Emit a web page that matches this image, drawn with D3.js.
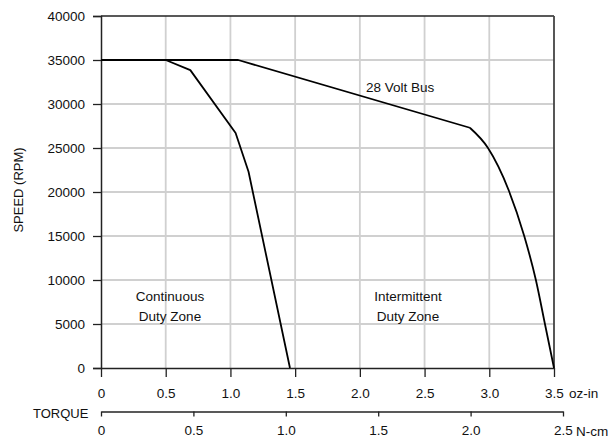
<!DOCTYPE html>
<html>
<head>
<meta charset="utf-8">
<script src="https://cdn.jsdelivr.net/npm/d3@7"></script>
<style>
  html, body { margin: 0; padding: 0; background: #fff; }
  svg { display: block; }
  text { font-family: "Liberation Sans", Arial, Helvetica, sans-serif; fill: #111; }
</style>
</head>
<body>
<svg id="chart" width="614" height="441"></svg>
<script>
// ---- data ----
const torqueTicks = [0, 0.5, 1.0, 1.5, 2.0, 2.5, 3.0, 3.5];
const torqueTickLabels = ["0", "0.5", "1.0", "1.5", "2.0", "2.5", "3.0", "3.5"];
const ncmTicks = [0, 0.5, 1.0, 1.5, 2.0, 2.5];
const ncmTickLabels = ["0", "0.5", "1.0", "1.5", "2.0", "2.5"];
const speedTicks = [0, 5000, 10000, 15000, 20000, 25000, 30000, 35000, 40000];

const continuousTorque = [0, 0.5, 0.69, 1.04, 1.14, 1.46];
const continuousSpeed  = [35000, 35000, 33850, 26700, 22300, 0];

const bus28Torque = [0, 1.06, 2.85, 2.99, 3.15, 3.27, 3.36, 3.43, 3.5];
const bus28Speed  = [35000, 35000, 27300, 25000, 20200, 15000, 10000, 5000, 0];

// ---- layout ----
const svg = d3.select("#chart");
const x = d3.scaleLinear().domain([0, 3.5]).range([101, 554]);
const xN = d3.scaleLinear().domain([0, 2.5]).range([101, 563]);
const y = d3.scaleLinear().domain([0, 40000]).range([368, 16]);
const FS = "13.5px";
const FF = '"Liberation Sans", Arial, Helvetica, sans-serif';

// grid
const grid = svg.append("g");
grid.selectAll("line.v").data(torqueTicks.slice(1, -1)).enter().append("line")
  .attr("x1", d => x(d)).attr("x2", d => x(d))
  .attr("y1", y(0)).attr("y2", y(40000))
  .attr("stroke", "#d0d0d0").attr("stroke-width", 1.8);
grid.selectAll("line.h").data(speedTicks.slice(1, -1)).enter().append("line")
  .attr("x1", x(0)).attr("x2", x(3.5))
  .attr("y1", d => y(d)).attr("y2", d => y(d))
  .attr("stroke", "#d0d0d0").attr("stroke-width", 1.8);

// frame: top and right
svg.append("line").attr("x1", x(0)).attr("x2", x(3.5)).attr("y1", y(40000)).attr("y2", y(40000))
  .attr("stroke", "#222").attr("stroke-width", 1.5);
svg.append("line").attr("x1", x(3.5)).attr("x2", x(3.5)).attr("y1", y(40000)).attr("y2", y(0))
  .attr("stroke", "#444").attr("stroke-width", 1.8);

function styleAxis(g) {
  g.select(".domain").attr("stroke", "#222").attr("stroke-width", 1.5);
  g.selectAll(".tick line").attr("stroke", "#222").attr("stroke-width", 1.3);
  g.selectAll(".tick text").style("font-size", FS).style("font-family", FF).attr("fill", "#111");
}

// Y axis
const yAxis = d3.axisLeft(y).tickValues(speedTicks).tickFormat(d3.format("d")).tickSize(8).tickPadding(8);
const gy = svg.append("g").attr("transform", `translate(${x(0)},0)`).call(yAxis);
styleAxis(gy);

// X axis (oz-in)
const xAxis = d3.axisBottom(x).tickValues(torqueTicks).tickFormat((d, i) => torqueTickLabels[i]).tickSize(9).tickPadding(11).tickSizeOuter(0);
const gx = svg.append("g").attr("transform", `translate(0,${y(0)})`).call(xAxis);
styleAxis(gx);

// X axis (N-cm)
const xAxisN = d3.axisBottom(xN).tickValues(ncmTicks).tickFormat((d, i) => ncmTickLabels[i]).tickSize(5).tickPadding(9).tickSizeOuter(0);
const gn = svg.append("g").attr("transform", "translate(0,411.5)").call(xAxisN);
styleAxis(gn);

// curves
const contPts = continuousTorque.map((t, i) => [t, continuousSpeed[i]]);
const busPts = bus28Torque.map((t, i) => [t, bus28Speed[i]]);
const lineLin = d3.line().x(d => x(d[0])).y(d => y(d[1]));
const lineSmooth = d3.line().x(d => x(d[0])).y(d => y(d[1])).curve(d3.curveMonotoneX);

svg.append("path").attr("d", lineLin(contPts))
  .attr("fill", "none").attr("stroke", "#000").attr("stroke-width", 1.8).attr("stroke-linejoin", "round");
svg.append("path").attr("d", lineLin(busPts.slice(0, 3)))
  .attr("fill", "none").attr("stroke", "#000").attr("stroke-width", 1.8).attr("stroke-linejoin", "round");
svg.append("path").attr("d", lineSmooth(busPts.slice(2)))
  .attr("fill", "none").attr("stroke", "#000").attr("stroke-width", 1.8).attr("stroke-linejoin", "round");

// labels
function txt(xp, yp, s, anchor) {
  svg.append("text").attr("x", xp).attr("y", yp).style("font-size", FS)
    .attr("text-anchor", anchor || "start").text(s);
}
txt(366, 92, "28 Volt Bus");
txt(170, 301, "Continuous", "middle");
txt(170, 321, "Duty Zone", "middle");
txt(408, 301, "Intermittent", "middle");
txt(408, 321, "Duty Zone", "middle");
txt(569, 398, "oz-in");
txt(576, 436, "N-cm");
svg.append("text").attr("x", 33).attr("y", 418).style("font-size", "13px").text("TORQUE");
svg.append("text").attr("transform", "translate(23,190) rotate(-90)")
  .attr("text-anchor", "middle").style("font-size", "13px").text("SPEED (RPM)");
</script>
</body>
</html>
